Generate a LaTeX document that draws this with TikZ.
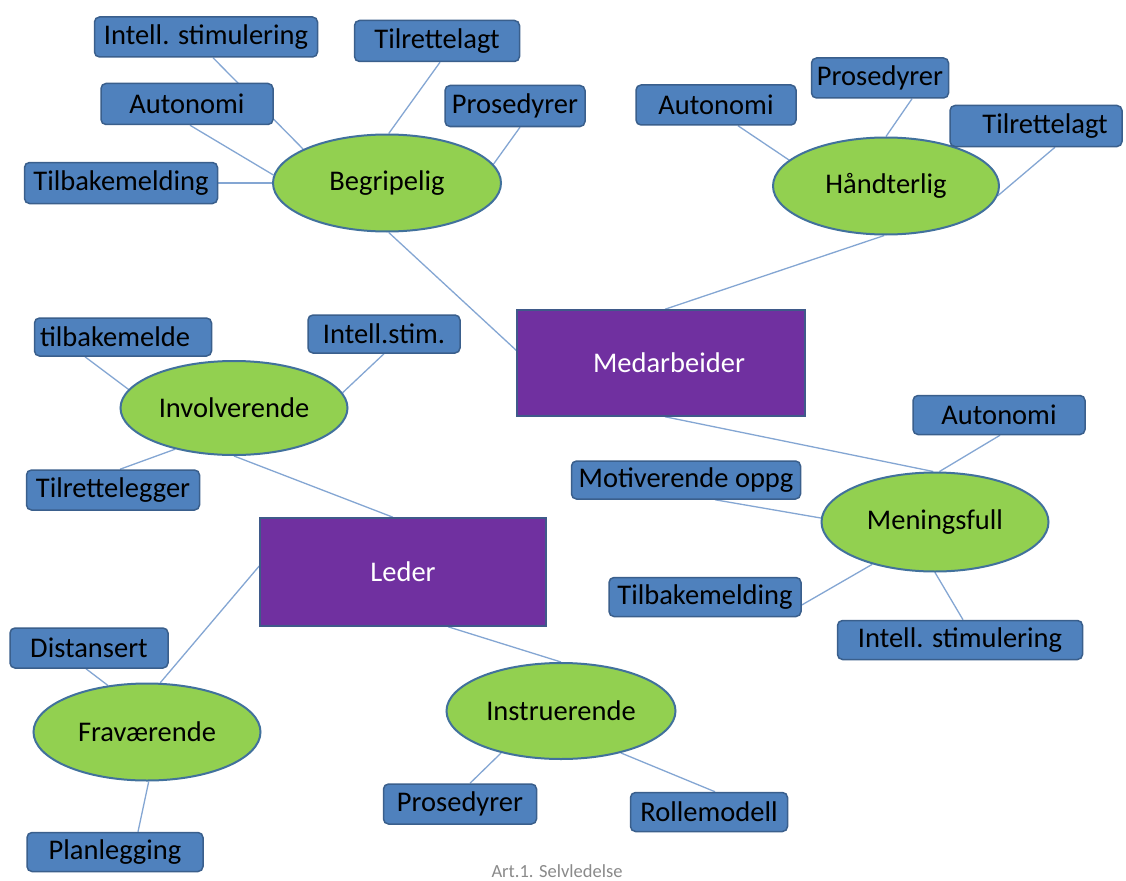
\documentclass[tikz,border=0pt]{standalone}
\usepackage{fontspec}
\setmainfont{Carlito}
\usetikzlibrary{shapes.geometric}
\pgfdeclarelayer{canvas}
\pgfdeclarelayer{background}
\pgfsetlayers{canvas,background,main}
\definecolor{boxfill}{HTML}{4F81BD}
\definecolor{boxline}{HTML}{3A5F8C}
\definecolor{ellfill}{HTML}{92D050}
\definecolor{ellline}{HTML}{41719C}
\definecolor{purp}{HTML}{7030A0}
\definecolor{purpline}{HTML}{3F5A8A}
\definecolor{conn}{HTML}{84A6D3}
\definecolor{capgray}{HTML}{8A8A8A}
\tikzset{
  blue box/.style={rectangle, rounded corners=5pt, fill=boxfill, draw=boxline, line width=1.5pt,
    inner sep=0pt, font=\fontsize{28.5}{31}\selectfont, text=black},
  green ell/.style={ellipse, fill=ellfill, draw=ellline, line width=2pt, inner sep=0pt,
    font=\fontsize{28.5}{31}\selectfont, text=black},
  purple rect/.style={rectangle, fill=purp, draw=purpline, line width=1.5pt, inner sep=0pt,
    font=\fontsize{28.5}{31}\selectfont, text=white},
  link/.style={draw=conn, line width=1.3pt},
  caption/.style={font=\fontsize{18.5}{20}\selectfont, text=capgray, inner sep=0pt}
}
\begin{document}
\begin{tikzpicture}[x=1pt,y=-1pt]
\begin{pgfonlayer}{canvas}
\fill[white] (0,0) rectangle (1126,880);
\end{pgfonlayer}
\useasboundingbox (0,0) rectangle (1126,880);

% central rectangles
\node[purple rect, minimum width=288pt, minimum height=106pt] (med) at (661,363) {\hspace*{16pt}Medarbeider};
\node[purple rect, minimum width=286pt, minimum height=108pt] (leder) at (403,572) {Leder};

% ellipses
\node[green ell, minimum width=228pt, minimum height=97pt] (beg) at (387,183) {Begripelig};
\node[green ell, minimum width=226pt, minimum height=97pt] (hand) at (886,186) {Håndterlig};
\node[green ell, minimum width=227pt, minimum height=99pt] (men) at (935,522) {Meningsfull};
\node[green ell, minimum width=227pt, minimum height=94pt] (inv) at (234,408) {Involverende};
\node[green ell, minimum width=227pt, minimum height=97pt] (fra) at (147,732) {Fraværende};
\node[green ell, minimum width=229pt, minimum height=96pt] (ins) at (561,711) {Instruerende};

% blue boxes
\node[blue box, minimum width=223pt, minimum height=40pt] (is1) at (206,37) {Intell. stimulering};
\node[blue box, minimum width=165pt, minimum height=41pt] (tr1) at (437,41) {Tilrettelagt};
\node[blue box, minimum width=172pt, minimum height=41pt] (au1) at (187,104) {Autonomi};
\node[blue box, minimum width=140pt, minimum height=41pt] (pr1) at (515,106) {Prosedyrer};
\node[blue box, minimum width=193pt, minimum height=41pt] (tb1) at (121,183) {Tilbakemelding};
\node[blue box, minimum width=160pt, minimum height=40pt] (au2) at (716,105) {Autonomi};
\node[blue box, minimum width=137pt, minimum height=40pt] (pr2) at (880,78) {Prosedyrer};
\node[blue box, minimum width=172pt, minimum height=41pt] (tr2) at (1036,126) {\hspace*{18pt}Tilrettelagt};
\node[blue box, minimum width=177pt, minimum height=38pt] (tb2) at (123,337) {tilbakemelde\hspace*{16pt}};
\node[blue box, minimum width=152pt, minimum height=38pt] (is2) at (384,334) {Intell.stim.};
\node[blue box, minimum width=173pt, minimum height=40pt] (tr3) at (113,490) {Tilrettelegger};
\node[blue box, minimum width=172pt, minimum height=39pt] (au3) at (999,415) {Autonomi};
\node[blue box, minimum width=229pt, minimum height=38pt] (mo) at (686,480) {Motiverende oppg};
\node[blue box, minimum width=192pt, minimum height=39pt] (tb3) at (705,597) {Tilbakemelding};
\node[blue box, minimum width=245pt, minimum height=39pt] (is3) at (960,640) {Intell. stimulering};
\node[blue box, minimum width=158pt, minimum height=40pt] (dist) at (89,648) {Distansert};
\node[blue box, minimum width=176pt, minimum height=39pt] (plan) at (115,852) {Planlegging};
\node[blue box, minimum width=153pt, minimum height=40pt] (pro3) at (460,804) {Prosedyrer};
\node[blue box, minimum width=157pt, minimum height=39pt] (rolle) at (709,812) {Rollemodell};

\node[caption] (cap) at (557,871) {Art.1. Selvledelse};

\begin{pgfonlayer}{background}
% Begripelig
\draw[link] ([xshift=7pt]is1.south) -- (beg.158);
\draw[link] ([xshift=3pt]au1.south) -- (beg.176);
\draw[link] (tb1.east) -- (beg.west);
\draw[link] ([xshift=3pt]tr1.south) -- (beg.88);
\draw[link] ([xshift=5pt]pr1.south) -- (beg.10);
\draw[link] (beg.-88) -- (med.175);
% Haandterlig
\draw[link] ([xshift=22pt]au2.south) -- (hand.165);
\draw[link] ([xshift=32pt]pr2.south) -- (hand.north);
\draw[link] ([xshift=19pt]tr2.south) -- (hand.-5);
\draw[link] (hand.-92) -- ([xshift=4pt]med.north);
% Meningsfull
\draw[link] ([xshift=4pt]med.south) -- (men.92);
\draw[link] ([xshift=1pt]au3.south) -- (men.85);
\draw[link] ([xshift=29pt]mo.south) -- (men.178);
\draw[link] ([yshift=-8pt]tb3.east) -- (men.-146);
\draw[link] ([xshift=3pt]is3.north) -- (men.-90);
% Involverende
\draw[link] ([xshift=-38pt]tb2.south) -- (inv.170);
\draw[link] (is2.south) -- (inv.8);
\draw[link] ([xshift=7pt]tr3.north) -- (inv.-145);
\draw[link] (inv.-90) -- ([xshift=-10pt]leder.north);
% Leder
\draw[link] ([yshift=6pt]leder.west) -- (fra.75);
\draw[link] ([xshift=45pt]leder.south) -- (ins.north);
% Fravaerende
\draw[link] ([xshift=-3pt]dist.south) -- (fra.130);
\draw[link] ([xshift=23pt]plan.north) -- (fra.-88);
% Instruerende
\draw[link] ([xshift=10pt]pro3.north) -- (ins.-145);
\draw[link] ([xshift=6pt]rolle.north) -- (ins.-35);
\end{pgfonlayer}
\end{tikzpicture}
\end{document}
